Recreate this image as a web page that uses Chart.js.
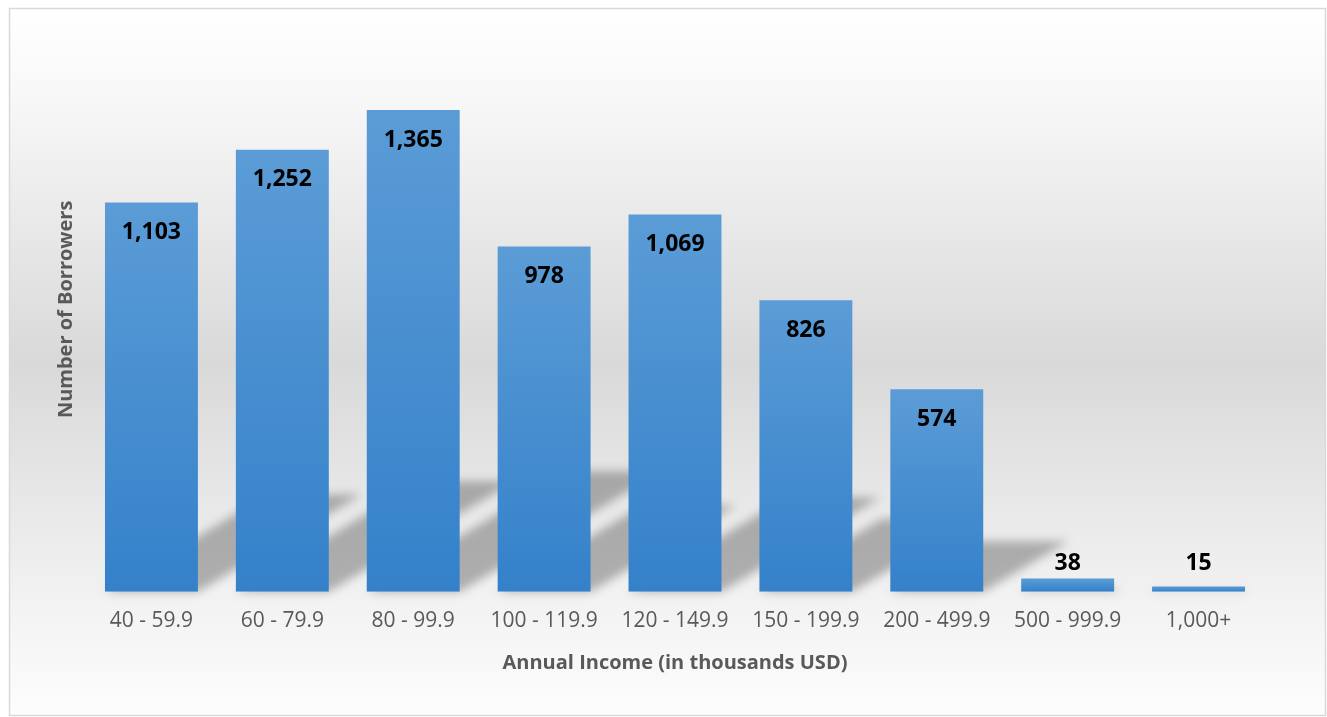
<!DOCTYPE html>
<html>
<head>
<meta charset="utf-8">
<script src="https://cdn.jsdelivr.net/npm/chart.js@4.4.1/dist/chart.umd.min.js"></script>
<style>
  html, body { margin: 0; padding: 0; background: #ffffff; }
  #wrap { width: 1327px; height: 717px; position: relative; }
</style>
</head>
<body>
<div id="wrap"><canvas id="c" width="1327" height="717"></canvas></div>
<script>
const categories = ["40 - 59.9", "60 - 79.9", "80 - 99.9", "100 - 119.9", "120 - 149.9", "150 - 199.9", "200 - 499.9", "500 - 999.9", "1,000+"];
const borrowers = [1103, 1252, 1365, 978, 1069, 826, 574, 38, 15];
const xTitle = "Annual Income (in thousands USD)";
const yTitle = "Number of Borrowers";

const bgPlugin = {
  id: 'bg',
  beforeDraw(chart) {
    const ctx = chart.ctx;
    ctx.save();
    ctx.fillStyle = '#ffffff';
    ctx.fillRect(0, 0, chart.width, chart.height);
    const g = ctx.createLinearGradient(0, 9, 0, 716);
    g.addColorStop(0, '#ffffff');
    g.addColorStop(0.12, '#f8f8f8');
    g.addColorStop(0.5, '#d9d9d9');
    g.addColorStop(0.82, '#f1f1f1');
    g.addColorStop(1, '#fdfdfd');
    ctx.fillStyle = g;
    ctx.fillRect(9.5, 8.5, 1316, 707);
    ctx.strokeStyle = '#d9d9d9';
    ctx.lineWidth = 1.5;
    ctx.strokeRect(9.5, 8.5, 1316, 707);
    ctx.restore();
  }
};

const shadowPlugin = {
  id: 'shadows',
  beforeDatasetsDraw(chart) {
    const ctx = chart.ctx;
    const meta = chart.getDatasetMeta(0);
    ctx.save();
    ctx.filter = 'blur(5px)';
    ctx.fillStyle = 'rgba(80,80,80,0.42)';
    meta.data.forEach(el => {
      const h = el.base - el.y;
      const dy = 0.25 * h, dx = 0.42 * h;
      const x0 = el.x - el.width / 2, x1 = el.x + el.width / 2;
      ctx.beginPath();
      ctx.moveTo(x0, el.base);
      ctx.lineTo(x1, el.base);
      ctx.lineTo(x1 + dx, el.base - dy);
      ctx.lineTo(x0 + dx, el.base - dy);
      ctx.closePath();
      ctx.fill();
    });
    ctx.restore();
  }
};

const labelPlugin = {
  id: 'vals',
  afterDatasetsDraw(chart) {
    const ctx = chart.ctx;
    const meta = chart.getDatasetMeta(0);
    ctx.save();
    ctx.font = 'bold 23px "Open Sans"';
    ctx.fillStyle = '#000000';
    ctx.textAlign = 'center';
    ctx.textBaseline = 'middle';
    meta.data.forEach((el, i) => {
      const y = Math.min(el.y + 30, el.base - 28);
      ctx.fillText(borrowers[i].toLocaleString('en-US'), el.x, y);
    });
    ctx.restore();
  }
};

new Chart(document.getElementById('c'), {
  type: 'bar',
  data: {
    labels: categories,
    datasets: [{
      data: borrowers,
      barPercentage: 0.71,
      categoryPercentage: 1.0,
      borderWidth: 0,
      backgroundColor(context) {
        const chart = context.chart;
        if (!chart.chartArea) return '#4a8fd1';
        const ys = chart.scales.y;
        const top = ys.getPixelForValue(context.raw);
        const base = ys.getPixelForValue(0);
        const g = chart.ctx.createLinearGradient(0, top, 0, Math.max(base, top + 1));
        g.addColorStop(0, '#5b9cd6');
        g.addColorStop(1, '#3481ca');
        return g;
      }
    }]
  },
  options: {
    responsive: false,
    animation: false,
    devicePixelRatio: 1,
    layout: { padding: { left: 50, right: 63, top: 27, bottom: 38 } },
    plugins: { legend: { display: false }, tooltip: { enabled: false } },
    scales: {
      x: {
        grid: { display: false, drawTicks: false },
        border: { display: false },
        ticks: { color: '#595959', font: { family: 'Open Sans', size: 21 }, padding: 17, maxRotation: 0 },
        title: { display: true, text: xTitle, color: '#595959', font: { family: 'Open Sans', size: 20, weight: 'bold' }, padding: { top: 0, bottom: 4 } }
      },
      y: {
        min: 0, max: 1600,
        grid: { display: false, drawTicks: false },
        border: { display: false },
        ticks: { display: false },
        title: { display: true, text: yTitle, color: '#595959', font: { family: 'Open Sans', size: 20, weight: 'bold' }, padding: { top: 4, bottom: 8 } }
      }
    }
  },
  plugins: [bgPlugin, shadowPlugin, labelPlugin]
});
</script>
</body>
</html>
